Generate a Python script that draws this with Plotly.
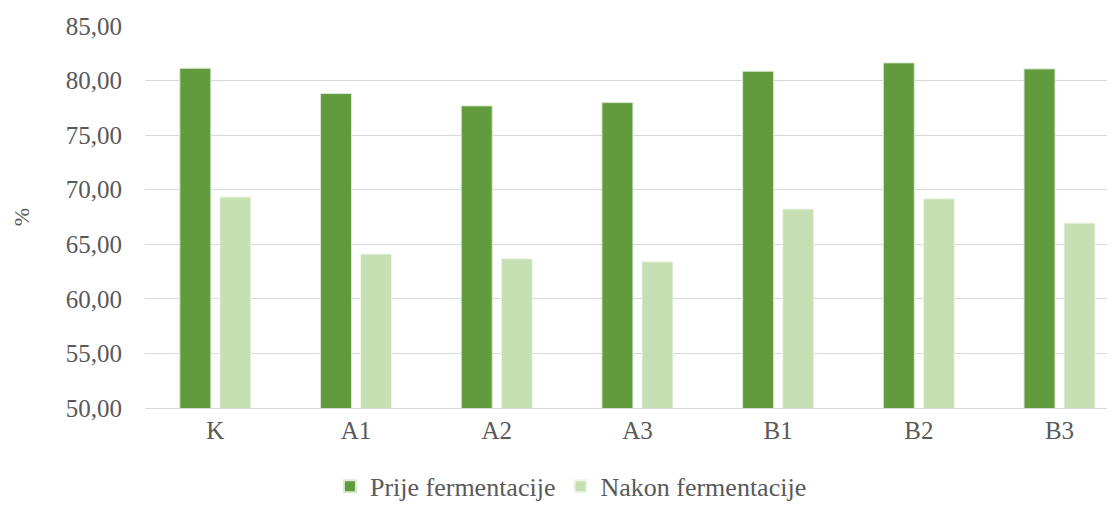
import plotly.graph_objects as go

categories = ["K", "A1", "A2", "A3", "B1", "B2", "B3"]
prije = [81.13, 78.81, 77.68, 77.98, 80.85, 81.62, 81.07]
nakon = [69.33, 64.10, 63.67, 63.40, 68.23, 69.17, 66.94]
series_names = ["Prije fermentacije", "Nakon fermentacije"]
y_ticks = [50, 55, 60, 65, 70, 75, 80, 85]
y_ticktext = ["50,00", "55,00", "60,00", "65,00", "70,00", "75,00", "80,00", "85,00"]

FONT = "Liberation Serif"
TXT = "#595959"

fig = go.Figure()
fig.add_trace(go.Bar(x=categories, y=prije, name=series_names[0],
                     marker=dict(color="#629B3E", line=dict(color="#d9ead3", width=1))))
fig.add_trace(go.Bar(x=categories, y=nakon, name=series_names[1],
                     marker=dict(color="#C6E0B4", line=dict(color="#eef6e9", width=1))))

fig.update_layout(
    width=1107, height=499,
    margin=dict(l=137, r=2, t=18, b=99, autoexpand=False),
    paper_bgcolor="white", plot_bgcolor="white",
    font=dict(family=FONT, size=25, color=TXT),
    barmode="group", bargap=0.431, bargroupgap=0.225,
    showlegend=True,
    legend=dict(orientation="h", x=0.44, xanchor="center", y=-0.205, yanchor="middle",
                font=dict(family=FONT, size=26, color=TXT), itemsizing="constant",
                traceorder="normal"),
    xaxis=dict(range=[-0.5, 6.38], showgrid=False, showline=True, linecolor="#d9d9d9",
               linewidth=1, ticks="", automargin=False,
               tickfont=dict(family=FONT, size=25, color=TXT)),
    yaxis=dict(range=[50, 85], tickvals=y_ticks, ticktext=y_ticktext, showgrid=True,
               gridcolor="#d9d9d9", gridwidth=1, zeroline=False, showline=False,
               ticks="", ticklabelstandoff=22, automargin=False,
               tickfont=dict(family=FONT, size=25, color=TXT),
               title=dict(text="%", font=dict(family=FONT, size=22, color=TXT), standoff=30)),
)

fig.write_html("out.html")
